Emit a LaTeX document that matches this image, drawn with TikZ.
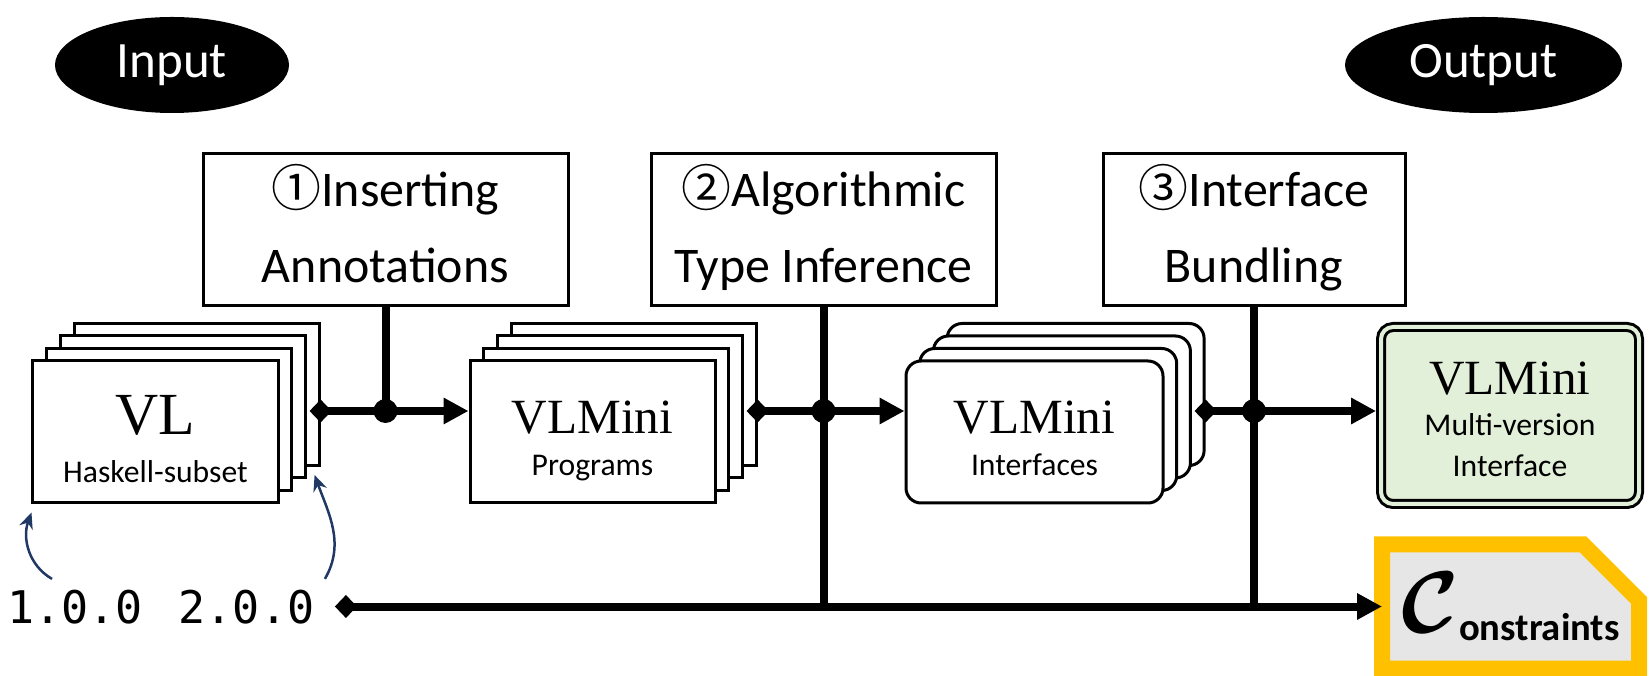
\documentclass[tikz,border=0pt]{standalone}
\usepackage{amsmath}
\usepackage{fontspec}
\usepackage{tikz}
\usetikzlibrary{arrows.meta,shapes.geometric,shapes.misc}
\newfontfamily\calibri{Carlito}
\newfontfamily\cambria{Liberation Serif}
\newfontfamily\circnum{Noto Sans CJK JP}
\newfontfamily\versfont{DejaVu Sans Mono}
\definecolor{vlgreen}{HTML}{E2F0D9}
\definecolor{consorange}{HTML}{FFC000}
\definecolor{consgray}{HTML}{E6E6E6}
\definecolor{vernavy}{HTML}{203864}
\newcommand{\vstrut}[2]{\rule[-#2]{0pt}{\dimexpr#1+#2\relax}}

\begin{document}
\begin{tikzpicture}[
  terminal/.style={ellipse, fill=black, text=white, minimum height=0.96cm, inner sep=0pt,
    font=\calibri\fontsize{14.5pt}{17pt}\selectfont},
  stepbox/.style={draw, line width=0.03cm, minimum height=1.52cm, inner sep=0pt, align=center,
    font=\calibri\fontsize{14.2pt}{0.76cm}\selectfont},
  page/.style={draw, fill=white, line width=0.03cm, minimum width=2.45cm, minimum height=1.42cm,
    inner sep=0pt, align=center},
  ipage/.style={page, minimum width=2.57cm, rounded corners=0.15cm},
  result/.style={draw, line width=0.03cm, double=vlgreen, double distance=0.04cm, fill=vlgreen,
    rounded corners=0.12cm, minimum width=2.58cm, minimum height=1.77cm, inner sep=0pt,
    outer sep=0.05cm, align=center, font=\fontsize{9pt}{0.41cm}\selectfont},
  cons/.style={chamfered rectangle, chamfered rectangle corners=north east,
    chamfered rectangle xsep=0.28cm, chamfered rectangle ysep=0.28cm,
    draw=consorange, line width=0.16cm, fill=consgray, minimum width=2.57cm,
    minimum height=1.23cm, inner sep=0pt, outer sep=0pt,
    font=\fontsize{11pt}{13pt}\selectfont},
  ver/.style={anchor=base, inner sep=0.1cm, font=\versfont\fontsize{12.8pt}{15pt}\selectfont},
  dot/.style={circle, fill=black, minimum size=0.24cm, inner sep=0pt},
  bus/.style={line width=0.08cm},
  flow/.style={line width=0.08cm, {Diamond[length=2.2mm,width=2.3mm]}-{Triangle[length=2.5mm,width=2.5mm]}},
  verarrow/.style={draw=vernavy, line width=0.025cm, -{Stealth[length=1.6mm,width=1.4mm]}}
]
\useasboundingbox (0,0) rectangle (16.51,-6.76);

\node[terminal, minimum width=2.34cm] (in)  at (1.72,-0.65)   {Input};
\node[terminal, minimum width=2.77cm] (out) at (14.835,-0.65) {Output};

\node[stepbox, minimum width=3.65cm] (step1) at (3.855,-2.30)
  {\vstrut{0.45cm}{0pt}{\circnum ①}Inserting\\Annotations\vstrut{0pt}{0.15cm}};
\node[stepbox, minimum width=3.45cm] (step2) at (8.235,-2.30)
  {\vstrut{0.45cm}{0pt}{\circnum ②}Algorithmic\\Type Inference\vstrut{0pt}{0.15cm}};
\node[stepbox, minimum width=3.02cm] (step3) at (12.54,-2.30)
  {\vstrut{0.45cm}{0pt}{\circnum ③}Interface\\Bundling\vstrut{0pt}{0.15cm}};

% stacked inputs and intermediate results
\coordinate (vlc)   at (1.555,-4.32);
\coordinate (progc) at (5.925,-4.32);
\coordinate (intfc) at (10.345,-4.32);
\foreach \k in {3,2,1} {
  \node[page]  (vl\k)   at ([shift={(\k*0.137,\k*0.125)}]vlc)   {};
  \node[page]  (prog\k) at ([shift={(\k*0.137,\k*0.125)}]progc) {};
  \node[ipage] (intf\k) at ([shift={(\k*0.137,\k*0.125)}]intfc) {};
}
\node[page, font=\fontsize{9pt}{0.47cm}\selectfont] (vl) at (vlc)
  {\vstrut{0.6cm}{0pt}{\cambria\fontsize{17pt}{17pt}\selectfont VL}\\{\calibri Haskell-subset}\vstrut{0pt}{0.07cm}};
\node[page, font=\fontsize{9pt}{0.42cm}\selectfont] (prog) at (progc)
  {\vstrut{0.5cm}{0pt}{\cambria\fontsize{14pt}{14pt}\selectfont VLMini}\\{\calibri Programs}\vstrut{0pt}{0.06cm}};
\node[ipage, font=\fontsize{9pt}{0.42cm}\selectfont] (intf) at (intfc)
  {\vstrut{0.5cm}{0pt}{\cambria\fontsize{14pt}{14pt}\selectfont VLMini}\\{\calibri Interfaces}\vstrut{0pt}{0.06cm}};

\node[result] (res) at (15.10,-4.155)
  {\vstrut{0.48cm}{0pt}{\cambria\fontsize{14pt}{14pt}\selectfont VLMini}\\{\calibri Multi-version}\\{\calibri Interface}\vstrut{0pt}{0.07cm}};
\node[cons] (cons) at (15.105,-6.065)
  {\makebox[1.9cm][c]{\raisebox{0.08cm}{\fontsize{24pt}{24pt}\selectfont$\boldsymbol{\mathcal{C}}$}{\calibri\bfseries onstraints}}};

\node[ver] (v1) at (0.75,-6.23)  {1.0.0};
\node[ver] (v2) at (2.465,-6.23) {2.0.0};

\node[dot] (j1) at (step1.south |- 0,-4.11) {};
\node[dot] (j2) at (step2.south |- 0,-4.11) {};
\node[dot] (j3) at (step3.south |- 0,-4.11) {};

\draw[bus] (step1.south) -- (j1.center);
\draw[bus] (step2.south) -- (step2.south |- cons.west);
\draw[bus] (step3.south) -- (step3.south |- cons.west);

\draw[flow, shorten <=-1.1mm] (vl3.east |- j1) -- (j1 -| prog.west);
\draw[flow, shorten <=-1.1mm] (prog3.east |- j2) -- (j2 -| intf.west);
\draw[flow, shorten <=-1.1mm] (intf3.east |- j3) -- (j3 -| res.west);
\draw[flow, shorten <=1mm] (v2.east |- cons.west) -- (cons.west);

\draw[verarrow] ([xshift=-0.23cm]v1.north) to[out=150,in=250] ([yshift=-0.08cm]vl.south west);
\draw[verarrow] (v2.north east) to[out=60,in=290] ([shift={(-0.06,-0.08)}]vl3.south east);
\end{tikzpicture}
\end{document}
